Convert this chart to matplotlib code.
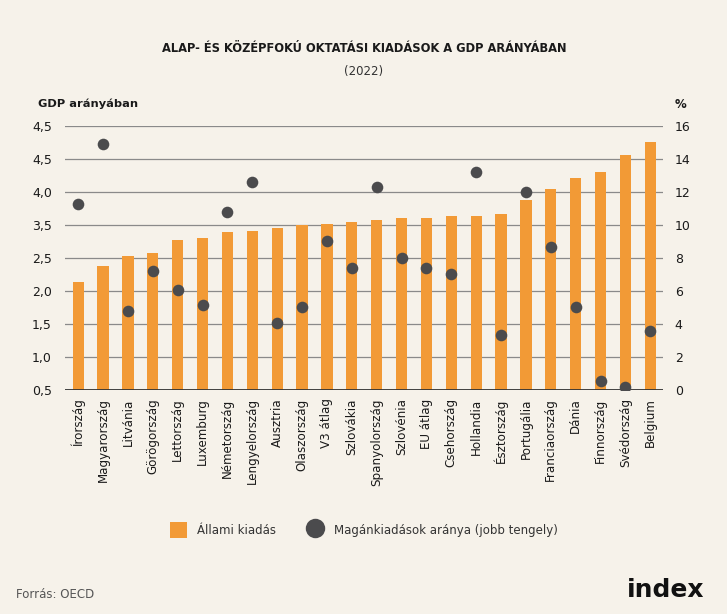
"""Alap- és középfokú oktatási kiadások a GDP arányában (2022) – bar + dot chart."""

import matplotlib

matplotlib.use("Agg")
import matplotlib.pyplot as plt
import numpy as np
from matplotlib.lines import Line2D
from matplotlib.patches import Patch

COUNTRIES = [
    "Írország", "Magyarország", "Litvánia", "Görögország", "Lettország",
    "Luxemburg", "Németország", "Lengyelország", "Ausztria", "Olaszország",
    "V3 átlag", "Szlovákia", "Spanyolország", "Szlovénia", "EU átlag",
    "Csehország", "Hollandia", "Észtország", "Portugália", "Franciaország",
    "Dánia", "Finnország", "Svédország", "Belgium",
]
# Állami kiadás (bal tengely)
PUBLIC = [
    2.13, 2.38, 2.53, 2.57, 2.77, 2.81, 2.89, 2.91, 2.96, 3.00,
    3.02, 3.04, 3.08, 3.11, 3.11, 3.13, 3.13, 3.16, 3.38, 3.54,
    3.71, 3.81, 4.06, 4.26,
]
# Magánkiadások aránya, % (jobb tengely)
PRIVATE = [
    11.25, 14.93, 4.77, 7.19, 6.08, 5.15, 10.77, 12.59, 4.08, 5.05,
    9.05, 7.41, 12.28, 7.98, 7.41, 7.03, 13.21, 3.35, 11.98, 8.65,
    5.01, 0.57, 0.16, 3.60,
]
LEFT_TICKS = [0.5, 1.0, 1.5, 2.0, 2.5, 3.0, 3.5, 4.0, 4.5]
LEFT_LABELS = ["0,5", "1,0", "1,5", "2,0", "2,5", "3,5", "4,0", "4,5", "4,5"]
RIGHT_TICKS = [0, 2, 4, 6, 8, 10, 12, 14, 16]

BG = "#f6f2ea"
ORANGE = "#f29a36"
DOT = "#4b4b4d"
GRID = "#8a8a8a"
TEXT = "#1a1a1a"

plt.rcParams["font.family"] = ["DejaVu Sans"]

fig = plt.figure(figsize=(7.27, 6.14), dpi=100, facecolor=BG)
ax = fig.add_axes([65 / 727, 1 - 390 / 614, 598 / 727, 264 / 614])
ax.set_facecolor("none")
ax2 = ax.twinx()

x = np.arange(len(COUNTRIES))

# gridlines (drawn in the left-axis space, same positions as the ticks)
for t in LEFT_TICKS[1:]:
    ax.axhline(t, color=GRID, lw=0.9, zorder=0)
ax.axhline(0.5, color="#333333", lw=1.3, zorder=3)

ax.bar(x, np.array(PUBLIC) - 0.5, bottom=0.5, width=0.455, color=ORANGE, zorder=2)
ax2.scatter(x, PRIVATE, s=70, color=DOT, zorder=4, linewidths=0)

ax.set_xlim(-0.53, len(COUNTRIES) - 1 + 0.51)
ax.set_ylim(0.5, 4.5)
ax2.set_ylim(0, 16)

ax.set_yticks(LEFT_TICKS)
ax.set_yticklabels(LEFT_LABELS)
ax2.set_yticks(RIGHT_TICKS)
ax2.set_yticklabels([str(t) for t in RIGHT_TICKS])

ax.set_xticks(x)
ax.set_xticklabels(COUNTRIES, rotation=90, fontsize=8.6, color=TEXT)

for a in (ax, ax2):
    for s in a.spines.values():
        s.set_visible(False)
ax.tick_params(axis="x", length=0, pad=6)
ax.tick_params(axis="y", length=0, pad=9.5, labelsize=9, labelcolor=TEXT)
ax2.tick_params(axis="y", length=0, pad=8.5, labelsize=9, labelcolor=TEXT)

# titles
fig.text(364 / 727, 1 - 48 / 614, "ALAP- ÉS KÖZÉPFOKÚ OKTATÁSI KIADÁSOK A GDP ARÁNYÁBAN",
         ha="center", va="center", fontsize=8.3, fontweight="bold", color=TEXT)
fig.text(364 / 727, 1 - 71 / 614, "(2022)", ha="center", va="center",
         fontsize=8.5, color="#333333")
fig.text(38 / 727, 1 - 104 / 614, "GDP arányában", ha="left", va="center",
         fontsize=8.2, fontweight="bold", color=TEXT)
fig.text(675 / 727, 1 - 104 / 614, "%", ha="left", va="center",
         fontsize=8.5, fontweight="bold", color=TEXT)

# legend
handles = [
    Patch(facecolor=ORANGE, edgecolor="none", label="Állami kiadás"),
    Line2D([], [], marker="o", linestyle="none", markersize=14,
           markerfacecolor=DOT, markeredgecolor="none",
           label="Magánkiadások aránya (jobb tengely)"),
]
fig.legend(handles=handles, loc="center", bbox_to_anchor=(364 / 727, 1 - 530 / 614),
           ncol=2, frameon=False, fontsize=8.5, handlelength=1.4, handleheight=1.6,
           columnspacing=2.6, handletextpad=0.9, labelcolor="#333333")

# footer
fig.text(16 / 727, 1 - 595 / 614, "Forrás: OECD", ha="left", va="center",
         fontsize=8.5, color="#555555")
fig.text(704 / 727, 1 - 590 / 614, "index", ha="right", va="center",
         fontsize=18, fontweight="heavy", color="#111111")

fig.savefig("out.png", dpi=100, facecolor=BG)
